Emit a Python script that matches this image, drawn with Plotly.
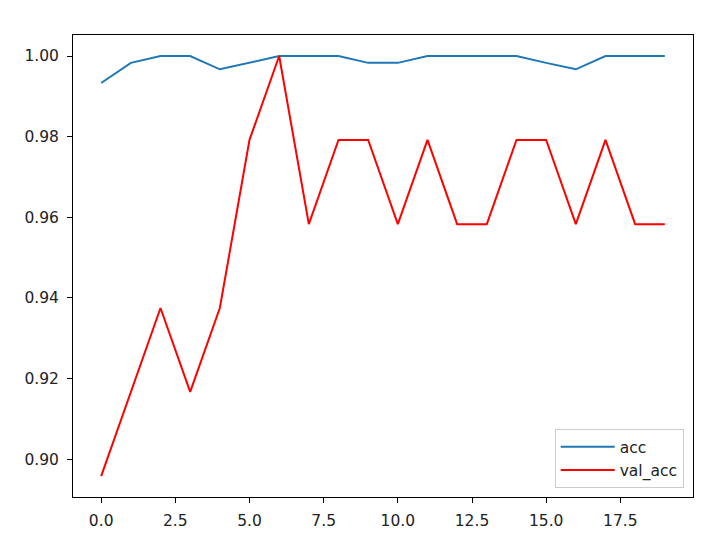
import plotly.graph_objects as go

epochs = list(range(20))
acc = [0.9933, 0.9983, 1.0, 1.0, 0.9967, 0.9983, 1.0, 1.0, 1.0, 0.9983,
       0.9983, 1.0, 1.0, 1.0, 1.0, 0.9983, 0.9967, 1.0, 1.0, 1.0]
val_acc = [0.8958, 0.9167, 0.9375, 0.9167, 0.9375, 0.9792, 1.0, 0.9583, 0.9792, 0.9792,
           0.9583, 0.9792, 0.9583, 0.9583, 0.9792, 0.9792, 0.9583, 0.9792, 0.9583, 0.9583]
x_ticks = [0, 2.5, 5, 7.5, 10, 12.5, 15, 17.5]
x_ticktext = ["0.0", "2.5", "5.0", "7.5", "10.0", "12.5", "15.0", "17.5"]
y_ticks = [0.90, 0.92, 0.94, 0.96, 0.98, 1.00]
y_ticktext = ["0.90", "0.92", "0.94", "0.96", "0.98", "1.00"]

fig = go.Figure()
fig.add_trace(go.Scatter(x=epochs, y=acc, mode="lines", name="acc",
                         line=dict(color="#1f77b4", width=2), legendgroup="a"))
fig.add_trace(go.Scatter(x=epochs, y=val_acc, mode="lines", name="val_acc",
                         line=dict(color="red", width=2), legendgroup="b"))

axis_common = dict(showline=True, linecolor="black", linewidth=1, mirror=True,
                   ticks="outside", ticklen=5, tickwidth=1, tickcolor="black",
                   showgrid=False, zeroline=False, automargin=False,
                   tickfont=dict(family="DejaVu Sans", size=15.5, color="#222"))

fig.update_layout(
    width=720, height=539,
    margin=dict(l=64.5, r=35.3, t=27, b=50, autoexpand=False),
    paper_bgcolor="white", plot_bgcolor="white",
    xaxis=dict(range=[-0.95, 19.95], tickvals=x_ticks, ticktext=x_ticktext,
               ticklabelstandoff=4, **axis_common),
    yaxis=dict(range=[0.89063, 1.00521], tickvals=y_ticks, ticktext=y_ticktext,
               ticklabelstandoff=5, **axis_common),
    legend=dict(x=0.985, y=0.019, xanchor="right", yanchor="bottom",
                bgcolor="rgba(255,255,255,0.8)", bordercolor="#cccccc", borderwidth=1,
                font=dict(family="DejaVu Sans", size=15.5, color="#222"),
                tracegroupgap=0, entrywidth=80, itemwidth=54),
    showlegend=True,
)

fig.write_html("out.html")
